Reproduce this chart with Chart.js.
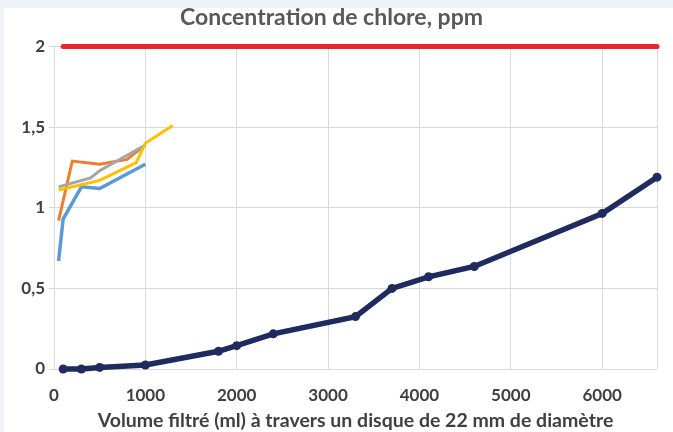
<!DOCTYPE html>
<html><head><meta charset="utf-8">
<script src="https://cdn.jsdelivr.net/npm/chart.js@4/dist/chart.umd.min.js"></script>
<style>html,body{margin:0;padding:0;background:#fff}#wrap{width:673px;height:432px}</style>
</head><body><div id="wrap"><canvas id="c" width="673" height="432"></canvas></div>
<script>
const titleText = "Concentration de chlore, ppm";
const xAxisTitle = "Volume filtré (ml) à travers un disque de 22 mm de diamètre";
const xTickValues = [0, 1000, 2000, 3000, 4000, 5000, 6000];
const yTickValues = [0, 0.5, 1, 1.5, 2];

const mainX = [100, 300, 500, 1000, 1800, 2000, 2400, 3300, 3700, 4100, 4600, 6000, 6600];
const mainY = [0.0, 0.0, 0.01, 0.025, 0.11, 0.145, 0.218, 0.325, 0.5, 0.572, 0.636, 0.965, 1.19];

const limitX = [100, 6600];
const limitY = [2, 2];

const blueX = [50, 100, 300, 500, 1000];
const blueY = [0.67, 0.93, 1.13, 1.12, 1.27];

const orangeX = [50, 200, 500, 800, 1000];
const orangeY = [0.92, 1.29, 1.27, 1.30, 1.39];

const grayX = [50, 400, 500, 1000];
const grayY = [1.13, 1.185, 1.23, 1.39];

const yellowX = [50, 500, 900, 1000, 1300];
const yellowY = [1.11, 1.17, 1.28, 1.40, 1.51];

const pts = (xs, ys) => xs.map((x, i) => ({x: x, y: ys[i]}));

const bgPlugin = {
  id: 'bg',
  beforeDraw(chart) {
    const ctx = chart.ctx;
    ctx.save();
    ctx.fillStyle = '#eef3f8';
    ctx.fillRect(0, 0, chart.width, chart.height);
    ctx.fillStyle = '#ffffff';
    ctx.fillRect(4, 8, chart.width - 4, chart.height - 8);
    ctx.restore();
  }
};

const FONT = 'Lato, "Open Sans", sans-serif';

new Chart(document.getElementById('c'), {
  type: 'line',
  data: {
    datasets: [
      {label: 'jaune', data: pts(yellowX, yellowY), borderColor: '#ffc000', borderWidth: 3, pointRadius: 0, tension: 0},
      {label: 'gris', data: pts(grayX, grayY), borderColor: '#a5a5a5', borderWidth: 3, pointRadius: 0, tension: 0},
      {label: 'orange', data: pts(orangeX, orangeY), borderColor: '#ed7d31', borderWidth: 3, pointRadius: 0, tension: 0},
      {label: 'bleu', data: pts(blueX, blueY), borderColor: '#5b9bd5', borderWidth: 3.5, pointRadius: 0, tension: 0},
      {label: 'principal', data: pts(mainX, mainY), borderColor: '#1f2a5e', backgroundColor: '#1f2a5e', borderWidth: 5.5, pointRadius: 4.5, pointHoverRadius: 4.5, pointBorderWidth: 0, tension: 0, clip: false},
      {label: 'limite', data: pts(limitX, limitY), borderColor: '#e8262e', borderWidth: 5, pointRadius: 0, borderCapStyle: 'round', tension: 0, clip: false}
    ]
  },
  options: {
    responsive: false,
    animation: false,
    devicePixelRatio: 1,
    layout: {padding: {left: 6, right: 16, top: 0, bottom: 0}},
    plugins: {
      legend: {display: false},
      tooltip: {enabled: false},
      title: {
        display: true,
        text: titleText,
        color: '#595959',
        font: {family: FONT, size: 23, weight: 'bold'},
        padding: {top: 4, bottom: 15}
      }
    },
    scales: {
      x: {
        type: 'linear',
        min: 0,
        max: 6600,
        afterBuildTicks(scale) { scale.ticks = xTickValues.map(v => ({value: v})).concat([{value: 6600}]); },
        afterFit(scale) { scale.height = 63; },
        ticks: {
          color: '#404040',
          font: {family: FONT, size: 17, weight: 'bold'},
          padding: 16,
          maxRotation: 0,
          autoSkip: false,
          callback: (v) => xTickValues.includes(v) ? String(v) : ''
        },
        grid: {color: '#d9d9d9', lineWidth: 1, drawTicks: false},
        border: {display: false},
        title: {
          display: true,
          text: xAxisTitle,
          color: '#404040',
          font: {family: FONT, size: 19.5, weight: 'bold'},
          padding: {top: 0, bottom: 0}
        }
      },
      y: {
        type: 'linear',
        min: 0,
        max: 2,
        afterBuildTicks(scale) { scale.ticks = yTickValues.map(v => ({value: v})); },
        afterFit(scale) { scale.width = 48; },
        ticks: {
          color: '#404040',
          font: {family: FONT, size: 17, weight: 'bold'},
          padding: 4,
          callback: (v) => String(v).replace('.', ',')
        },
        grid: {color: '#d9d9d9', lineWidth: 1, tickLength: 5},
        border: {display: true, color: '#d9d9d9'}
      }
    }
  },
  plugins: [bgPlugin]
});
</script>
</body></html>
